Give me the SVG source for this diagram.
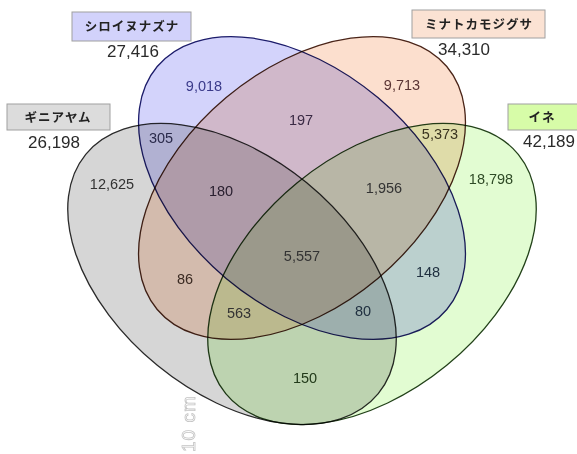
<svg xmlns="http://www.w3.org/2000/svg" width="577" height="454" viewBox="0 0 577 454">
<style>
.set{mix-blend-mode:multiply;stroke-width:1.3}
.lbl{stroke:#a0a0a0;stroke-width:1}
.jp{font-family:"Noto Sans CJK JP","Noto Sans",sans-serif;font-weight:bold;font-size:12.5px;fill:#222;text-anchor:middle;letter-spacing:1px}
.tot{font-family:"Liberation Sans",Arial,sans-serif;font-size:17px;fill:#2a2a2a;text-anchor:middle}
.num{font-family:"Liberation Sans",Arial,sans-serif;font-size:14.5px;fill:#333;text-anchor:middle}
</style>
<rect width="577" height="454" fill="#ffffff"/>
<g id="sets" style="isolation:isolate">
  <g id="set-giniayamu"><ellipse class="set" cx="232" cy="274" rx="189" ry="118" transform="rotate(39.3 232 274)" fill="#d6d6d6" stroke="#2a2a2a"/></g>
  <g id="set-shiroinunazuna"><ellipse class="set" cx="302" cy="188" rx="189" ry="118" transform="rotate(40 302 188)" fill="#d3d3fb" stroke="#1c1c6a"/></g>
  <g id="set-minatokamojigusa"><ellipse class="set" cx="302" cy="188" rx="189" ry="118" transform="rotate(-40 302 188)" fill="#fcdfce" stroke="#4a2418"/></g>
  <g id="set-ine"><ellipse class="set" cx="372" cy="274" rx="189" ry="118" transform="rotate(-39.3 372 274)" fill="#e2fcd2" stroke="#23421a"/></g>
</g>
<g id="counts">
  <text class="num" x="204" y="91" style="fill:#3a3a8a">9,018</text>
  <text class="num" x="402" y="90" style="fill:#5a3434">9,713</text>
  <text class="num" x="301" y="125" style="fill:#3a2a44">197</text>
  <text class="num" x="161" y="143" style="fill:#2a2a4a">305</text>
  <text class="num" x="440" y="139" style="fill:#3a3420">5,373</text>
  <text class="num" x="112" y="189">12,625</text>
  <text class="num" x="221" y="196" style="fill:#2a2030">180</text>
  <text class="num" x="384" y="193">1,956</text>
  <text class="num" x="491" y="184" style="fill:#2e4a26">18,798</text>
  <text class="num" x="302" y="261">5,557</text>
  <text class="num" x="185" y="284" style="fill:#3a2a22">86</text>
  <text class="num" x="428" y="277" style="fill:#203040">148</text>
  <text class="num" x="239" y="318">563</text>
  <text class="num" x="363" y="316" style="fill:#203040">80</text>
  <text class="num" x="305" y="383" style="fill:#223a1a">150</text>
</g>
<g id="label-shiroinunazuna">
  <rect class="lbl" x="72" y="12" width="119" height="29" fill="#d2d2fb"/>
  <text class="jp" x="132" y="31">シロイヌナズナ</text>
  <text class="tot" x="133" y="57">27,416</text>
</g>
<g id="label-minatokamojigusa">
  <rect class="lbl" x="412" y="10" width="133" height="28" fill="#fbe2d3"/>
  <text class="jp" x="479" y="29">ミナトカモジグサ</text>
  <text class="tot" x="464" y="55">34,310</text>
</g>
<g id="label-giniayamu">
  <rect class="lbl" x="7" y="104" width="103" height="26" fill="#dcdcdc"/>
  <text class="jp" x="58" y="122">ギニアヤム</text>
  <text class="tot" x="54" y="148">26,198</text>
</g>
<g id="label-ine">
  <rect class="lbl" x="508" y="104" width="72" height="26" fill="#d7fca8"/>
  <text class="jp" x="542" y="122">イネ</text>
  <text class="tot" x="549" y="147">42,189</text>
</g>
<text x="0" y="0" transform="translate(195 452) rotate(-90)" font-family="Liberation Sans, Arial, sans-serif" font-size="19" letter-spacing="1" fill="#ffffff" stroke="#c4c4c4" stroke-width="0.8">10 cm</text>
</svg>
